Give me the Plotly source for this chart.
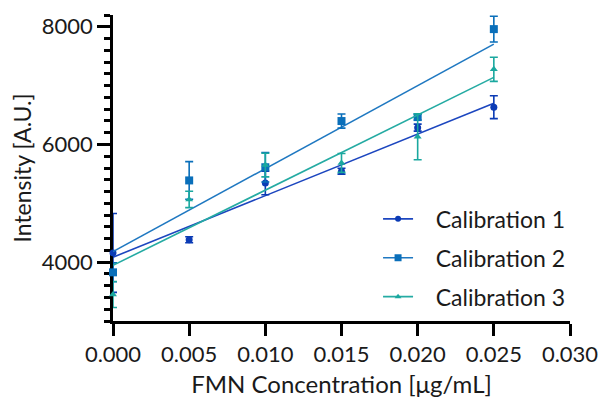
import numpy as np
import plotly.graph_objects as go

conc = [0.000, 0.005, 0.010, 0.015, 0.020, 0.025]

cal1 = [4156, 4381, 5345, 5546, 6286, 6634]
cal1_err = [670, 50, 200, 50, 60, 195]

cal2 = [3827, 5389, 5613, 6398, 6465, 7960]
cal2_err = [160, 320, 250, 120, 50, 220]

cal3 = [3450, 5066, 5650, 5686, 6129, 7277]
cal3_err = [220, 140, 200, 160, 390, 205]

names = ["Calibration 1", "Calibration 2", "Calibration 3"]
marker_colors = ["#0b3bb5", "#0a6fba", "#1aa89f"]
line_colors = ["#1c46bf", "#1f78c1", "#25aba3"]
symbols = ["circle", "square", "triangle-up"]
sizes = [7, 8, 7]

x_ticks = [0.000, 0.005, 0.010, 0.015, 0.020, 0.025, 0.030]
y_ticks = [4000, 6000, 8000]

FONT = "Lato"
TXT = "#1a1a1a"
PAD = "\u00a0" * 3

fig = go.Figure()
series = [(cal1, cal1_err), (cal2, cal2_err), (cal3, cal3_err)]
x_arr = np.array(conc)
for i, (vals, errs) in enumerate(series):
    slope, icpt = np.polyfit(x_arr, np.array(vals), 1)
    xs = [conc[0], conc[-1]]
    fig.add_trace(go.Scatter(
        x=xs, y=[icpt + slope * xv for xv in xs], mode="lines",
        line=dict(color=line_colors[i], width=1.6),
        showlegend=False, hoverinfo="skip", cliponaxis=False))
    fig.add_trace(go.Scatter(
        x=conc, y=vals, mode="markers",
        marker=dict(symbol=symbols[i], size=sizes[i], color=marker_colors[i]),
        error_y=dict(type="data", array=errs, visible=True,
                     color=marker_colors[i], thickness=1.6, width=4),
        showlegend=False, cliponaxis=False))
    fig.add_trace(go.Scatter(
        x=[None], y=[None], mode="lines+markers", name=PAD + names[i],
        legendgroup=f"g{i}",
        line=dict(color=line_colors[i], width=1.6),
        marker=dict(symbol=symbols[i], size=sizes[i] - 1, color=marker_colors[i])))

fig.update_layout(
    width=610, height=407,
    margin=dict(l=113, r=31, t=15, b=82),
    paper_bgcolor="white", plot_bgcolor="white",
    font=dict(family=FONT, size=22, color=TXT),
    legend=dict(x=0.58, y=0.404, xanchor="left", yanchor="top",
                font=dict(family=FONT, size=23, color=TXT),
                tracegroupgap=6, traceorder="grouped",
                bgcolor="rgba(0,0,0,0)", itemwidth=30),
    xaxis=dict(
        range=[0, 0.030], tickvals=x_ticks,
        ticktext=[f"{v:.3f}" for v in x_ticks],
        ticks="outside", ticklen=12, tickwidth=2.5, tickcolor="black",
        showline=True, linewidth=2.5, linecolor="black",
        showgrid=False, zeroline=False, layer="below traces",
        title=dict(text="FMN Concentration [μg/mL]", standoff=11,
                   font=dict(family=FONT, size=24, color=TXT)),
        tickfont=dict(family=FONT, size=22, color=TXT)),
    yaxis=dict(
        range=[3000, 8200], tickvals=y_ticks,
        ticks="outside", ticklen=13, tickwidth=2.5, tickcolor="black",
        showline=True, linewidth=2.5, linecolor="black",
        showgrid=False, zeroline=False, layer="below traces",
        minor=dict(dtick=200, tick0=3000, ticks="outside", ticklen=6,
                   tickwidth=2.5, tickcolor="black", showgrid=False),
        title=dict(text="Intensity [A.U.]", standoff=4,
                   font=dict(family=FONT, size=23, color=TXT)),
        tickfont=dict(family=FONT, size=22, color=TXT)),
)

fig.write_html("out.html")
